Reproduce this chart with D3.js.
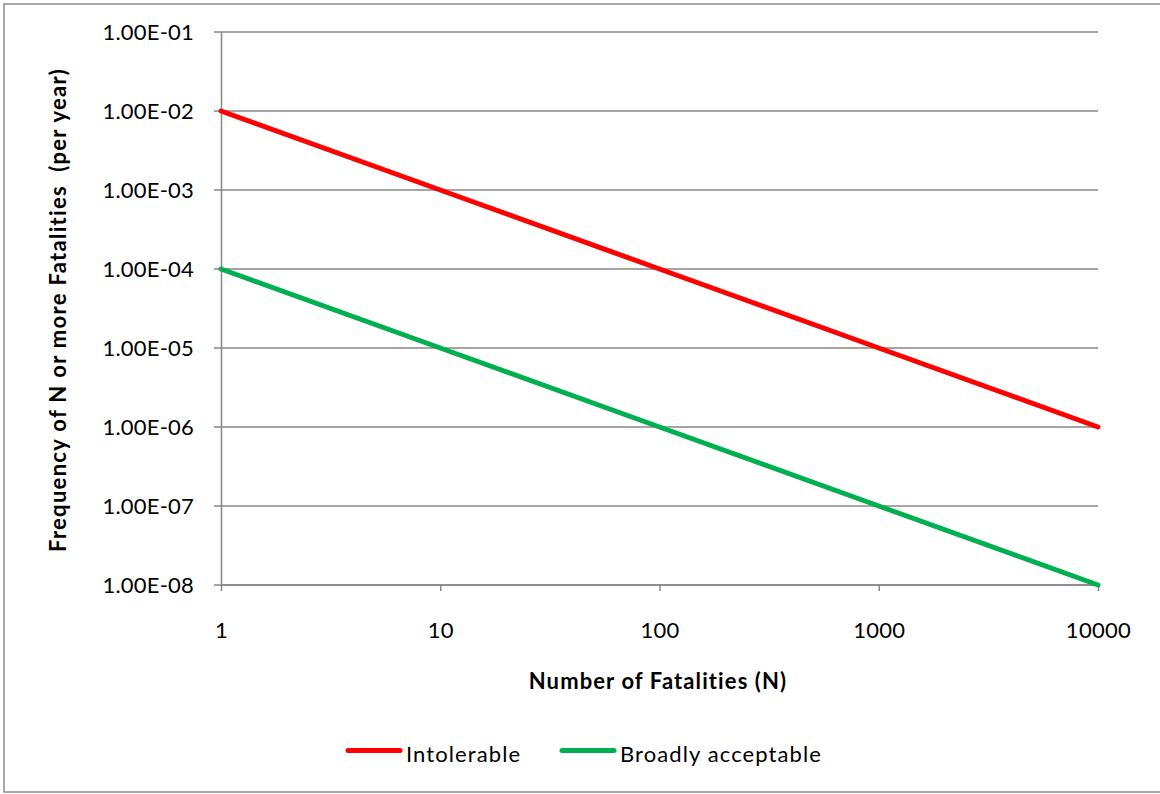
<!DOCTYPE html>
<html><head><meta charset="utf-8">
<script src="https://cdn.jsdelivr.net/npm/d3@7"></script>
<style>body{margin:0;background:#fff}svg{display:block}text{font-family:Lato,"Open Sans",sans-serif;fill:#000;white-space:pre}</style>
</head><body>
<svg id="c" width="1160" height="794"></svg>
<script>
const fatalities = [1, 10, 100, 1000, 10000];
const intolerable = [1e-2, 1e-3, 1e-4, 1e-5, 1e-6];
const broadlyAcceptable = [1e-4, 1e-5, 1e-6, 1e-7, 1e-8];
const yTicks = [1e-1, 1e-2, 1e-3, 1e-4, 1e-5, 1e-6, 1e-7, 1e-8];
const xTicks = [1, 10, 100, 1000, 10000];
const seriesNames = ["Intolerable", "Broadly acceptable"];
const seriesColors = ["#FF0000", "#00B050"];

const svg = d3.select("#c");
const L = 221, R = 1098, T = 32, B = 585;
const x = d3.scaleLog().domain([1, 10000]).range([L, R]);
const y = d3.scaleLog().domain([1e-8, 1e-1]).range([B, T]);

svg.append("rect").attr("x", 4).attr("y", 4).attr("width", 1170).attr("height", 788)
  .attr("fill", "#fff").attr("stroke", "#8c8c8c").attr("stroke-width", 1.5);

const fmt = v => { const e = Math.round(Math.log10(v)); return "1.00E" + (e < 0 ? "-" : "+") + String(Math.abs(e)).padStart(2, "0"); };

// grid
svg.append("g").selectAll("line").data(yTicks).join("line")
  .attr("x1", L - 7).attr("x2", R).attr("y1", d => y(d)).attr("y2", d => y(d))
  .attr("stroke", "#878787").attr("stroke-width", 1.5);

// y axis
const yAxis = d3.axisLeft(y).tickValues(yTicks).tickFormat(fmt).tickSize(0).tickPadding(27);
const gy = svg.append("g").attr("transform", `translate(${L},0)`).call(yAxis);
gy.select(".domain").attr("stroke", "#878787").attr("stroke-width", 1.5);
gy.selectAll("text").attr("font-size", 22).attr("font-family", "Lato").attr("dy", "0.36em").attr("letter-spacing", 0.2);

// x axis
const xAxis = d3.axisBottom(x).tickValues(xTicks).tickFormat(d3.format("d")).tickSize(6).tickPadding(31);
const gx = svg.append("g").attr("transform", `translate(0,${B})`).call(xAxis);
gx.select(".domain").attr("stroke", "#878787").attr("stroke-width", 1.5).attr("d", `M${L},0H${R}`);
gx.selectAll(".tick line").attr("stroke", "#878787").attr("stroke-width", 1.5);
gx.selectAll("text").attr("font-size", 22).attr("font-family", "Lato").attr("letter-spacing", 0.3);

// lines
const line = d3.line().x(d => x(d[0])).y(d => y(d[1]));
[intolerable, broadlyAcceptable].forEach((s, i) => {
  svg.append("path").datum(fatalities.map((f, j) => [f, s[j]]))
    .attr("d", line).attr("fill", "none").attr("stroke", seriesColors[i])
    .attr("stroke-width", 5).attr("stroke-linecap", "round").attr("stroke-linejoin", "round");
});

// titles
svg.append("text").attr("x", 658).attr("y", 689).attr("text-anchor", "middle")
  .attr("font-size", 22).attr("font-weight", "bold").attr("letter-spacing", 1.1).text("Number of Fatalities (N)");
svg.append("text").attr("transform", "translate(66,310) rotate(-90)").attr("text-anchor", "middle")
  .attr("font-size", 22).attr("font-weight", "bold").attr("letter-spacing", 1.3).text("Frequency of N or more Fatalities  (per year)");

// legend
const legX = [346, 560];
seriesNames.forEach((n, i) => {
  svg.append("line").attr("x1", legX[i] + 2).attr("x2", legX[i] + 54).attr("y1", 750.5).attr("y2", 750.5)
    .attr("stroke", seriesColors[i]).attr("stroke-width", 5).attr("stroke-linecap", "round");
  svg.append("text").attr("x", legX[i] + 60).attr("y", 762).attr("font-size", 22).attr("letter-spacing", 1.1).text(n);
});
</script>
</body></html>
